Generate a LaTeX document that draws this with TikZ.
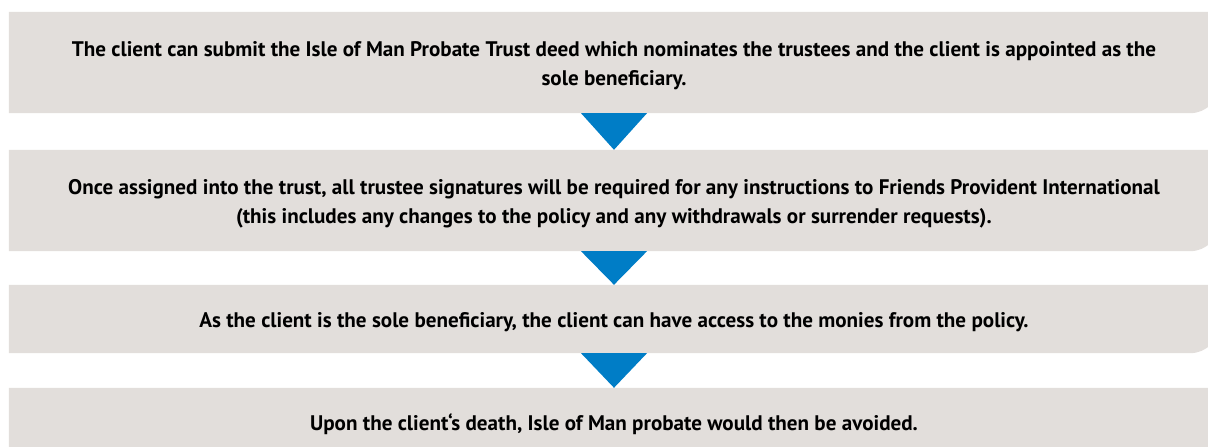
\documentclass[tikz,border=0pt]{standalone}
\usepackage{fontspec}
\setmainfont{PT Sans}
\usepackage{tikz}
\usetikzlibrary{backgrounds}
\definecolor{boxgray}{RGB}{226,222,219}
\definecolor{arrowblue}{RGB}{0,125,198}
\tikzset{
         stepbox/.style=
          {
           rectangle,
           minimum width=1210pt,
           align=center,
           font=\fontsize{21.1}{29}\selectfont\bfseries,
           execute at begin node={\rule{0pt}{22pt}}
          },
         twoline/.style={execute at begin node={\rule{0pt}{51pt}}},
         downarrow/.style={fill=arrowblue}
        }

\begin{document}
\begin{tikzpicture}[x=1pt,y=1pt]
\useasboundingbox(0,0)rectangle(1208,447);
\node[stepbox,twoline,minimum height=101pt](b1)at(614,384.5){The client can submit the Isle of Man Probate Trust deed which nominates the trustees and the client is appointed as the\\sole beneficiary.};
\node[stepbox,twoline,minimum height=101pt](b2)at(614,246.5){Once assigned into the trust, all trustee signatures will be required for any instructions to Friends Provident International\\(this includes any changes to the policy and any withdrawals or surrender requests).};
\node[stepbox,minimum height=68pt](b3)at(614,128){As the client is the sole beneficiary, the client can have access to the monies from the policy.};
\node[stepbox,minimum height=68pt](b4)at(614,25){Upon the client`s death, Isle of Man probate would then be avoided.};
%boxes
\begin{pgfonlayer}{background}
\foreach \b in {b1,b2,b3,b4}{
\fill[boxgray](\b.south west)--(\b.north west)--(\b.north east)--([yshift=29pt]\b.south east)arc[start angle=0,end angle=-90,radius=29pt]--cycle;
}
\end{pgfonlayer}
%arrows
\foreach \a/\b in {b1/b2,b2/b3,b3/b4}{
\fill[downarrow]([xshift=-33pt]\a.south)--([xshift=33pt]\a.south)--(\b.north)--cycle;
}
\end{tikzpicture}
\end{document}
